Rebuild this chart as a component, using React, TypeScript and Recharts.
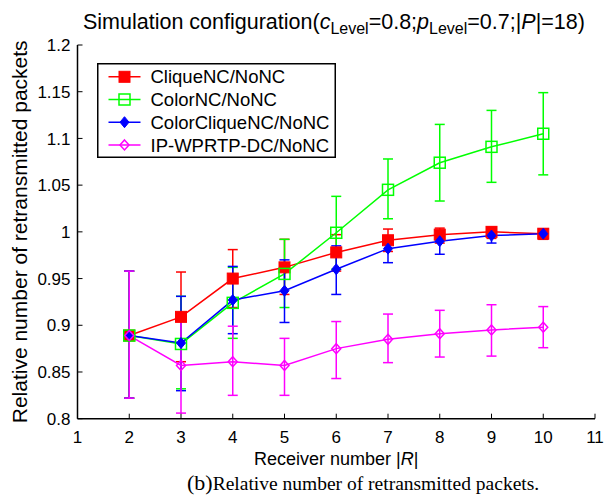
import React from 'react';
import { LineChart, Line, XAxis, YAxis, ErrorBar, Legend, Label } from 'recharts';

// ---------- data ----------
const receivers = [2, 3, 4, 5, 6, 7, 8, 9, 10];

const cliqueMean = [0.889, 0.909, 0.950, 0.962, 0.978, 0.991, 0.997, 1.000, 0.998];
const cliqueLow = [0.822, 0.861, 0.919, 0.933, 0.958, 0.979, 0.988, 0.993, 0.992];
const cliqueHigh = [0.958, 0.957, 0.981, 0.992, 0.997, 1.003, 1.004, 1.005, 1.003];

const colorMean = [0.889, 0.880, 0.924, 0.955, 0.999, 1.045, 1.074, 1.091, 1.105];
const colorLow = [0.822, 0.832, 0.886, 0.919, 0.960, 1.014, 1.033, 1.053, 1.061];
const colorHigh = [0.958, 0.931, 0.962, 0.992, 1.038, 1.078, 1.115, 1.130, 1.149];

const colorCliqueMean = [0.889, 0.881, 0.927, 0.937, 0.960, 0.982, 0.990, 0.996, 0.998];
const colorCliqueLow = [0.822, 0.830, 0.891, 0.903, 0.933, 0.967, 0.976, 0.988, 0.993];
const colorCliqueHigh = [0.958, 0.931, 0.963, 0.970, 0.985, 0.995, 1.001, 1.004, 1.003];

const ipMean = [0.889, 0.857, 0.861, 0.857, 0.875, 0.885, 0.891, 0.895, 0.898];
const ipLow = [0.822, 0.806, 0.825, 0.825, 0.843, 0.860, 0.866, 0.867, 0.876];
const ipHigh = [0.958, 0.908, 0.899, 0.886, 0.904, 0.912, 0.916, 0.922, 0.920];

const xTicks = [1, 2, 3, 4, 5, 6, 7, 8, 9, 10, 11];
const yTicks = [0.8, 0.85, 0.9, 0.95, 1, 1.05, 1.1, 1.15, 1.2];

const seriesNames = ['CliqueNC/NoNC', 'ColorNC/NoNC', 'ColorCliqueNC/NoNC', 'IP-WPRTP-DC/NoNC'];

// ---------- styling ----------
const FONT = '"Liberation Sans", Arial, Helvetica, sans-serif';

type MarkerType = 'squareFilled' | 'squareOpen' | 'diamondFilled' | 'diamondOpen';

const series = [
  { key: 'clique', name: seriesNames[0], color: '#ff0000', marker: 'squareFilled' as MarkerType, mean: cliqueMean, low: cliqueLow, high: cliqueHigh },
  { key: 'color', name: seriesNames[1], color: '#00ff00', marker: 'squareOpen' as MarkerType, mean: colorMean, low: colorLow, high: colorHigh },
  { key: 'colorClique', name: seriesNames[2], color: '#0000ff', marker: 'diamondFilled' as MarkerType, mean: colorCliqueMean, low: colorCliqueLow, high: colorCliqueHigh },
  { key: 'ip', name: seriesNames[3], color: '#ff00ff', marker: 'diamondOpen' as MarkerType, mean: ipMean, low: ipLow, high: ipHigh },
];

const data = receivers.map((r, i) => {
  const row: any = { r };
  series.forEach((s) => {
    row[s.key] = s.mean[i];
    row[s.key + 'Err'] = [s.mean[i] - s.low[i], s.high[i] - s.mean[i]];
  });
  return row;
});

function Marker({ type, color, cx, cy }: { type: MarkerType; color: string; cx: number; cy: number }) {
  if (cx == null || cy == null) return null;
  switch (type) {
    case 'squareFilled':
      return <rect x={cx - 5.5} y={cy - 5.5} width={11} height={11} fill={color} stroke={color} strokeWidth={1} />;
    case 'squareOpen':
      return <rect x={cx - 5.5} y={cy - 5.5} width={11} height={11} fill="none" stroke={color} strokeWidth={1.5} />;
    case 'diamondFilled':
      return (
        <polygon
          points={`${cx},${cy - 5.5} ${cx + 4.5},${cy} ${cx},${cy + 5.5} ${cx - 4.5},${cy}`}
          fill={color}
          stroke={color}
          strokeWidth={1}
        />
      );
    case 'diamondOpen':
    default:
      return (
        <polygon
          points={`${cx},${cy - 5} ${cx + 4.5},${cy} ${cx},${cy + 5} ${cx - 4.5},${cy}`}
          fill="none"
          stroke={color}
          strokeWidth={1.5}
        />
      );
  }
}

const BottomTick = (props: any) => {
  const { x, y, payload } = props;
  return (
    <g>
      <line x1={x} y1={y} x2={x} y2={y - 5} stroke="#000" strokeWidth={1} />
      <text x={x} y={y + 24} textAnchor="middle" fontSize={17} fontFamily={FONT} fill="#000">
        {payload.value}
      </text>
    </g>
  );
};

const TopTick = (props: any) => {
  const { x, y } = props;
  return <line x1={x} y1={y} x2={x} y2={y + 5} stroke="#000" strokeWidth={1} />;
};

const LeftTick = (props: any) => {
  const { x, y, payload } = props;
  return (
    <g>
      <line x1={x} y1={y} x2={x + 5} y2={y} stroke="#000" strokeWidth={1} />
      <text x={x - 7} y={y} dy="0.36em" textAnchor="end" fontSize={17} fontFamily={FONT} fill="#000">
        {String(payload.value)}
      </text>
    </g>
  );
};

const RightTick = (props: any) => {
  const { x, y } = props;
  return <line x1={x} y1={y} x2={x - 5} y2={y} stroke="#000" strokeWidth={1} />;
};

const LegendBox = () => (
  <svg width={239} height={95} style={{ display: 'block' }}>
    <rect x={0.75} y={0.75} width={237.5} height={93.5} fill="#fff" stroke="#000" strokeWidth={1.5} />
    {series.map((s, i) => {
      const cy = 13.8 + i * 22.7;
      return (
        <g key={s.key}>
          <line x1={11.5} y1={cy} x2={43.5} y2={cy} stroke={s.color} strokeWidth={1.5} />
          <Marker type={s.marker} color={s.color} cx={27.5} cy={cy} />
          <text x={53.5} y={cy} dy="0.36em" fontSize={18.5} fontFamily={FONT} fill="#000">
            {s.name}
          </text>
        </g>
      );
    })}
  </svg>
);

const XLabel = (props: any) => {
  const { viewBox } = props;
  const cx = viewBox.x + viewBox.width / 2;
  const y = viewBox.y + 46.5;
  return (
    <text x={cx} y={y} textAnchor="middle" fontSize={18} fontFamily={FONT} fill="#000">
      Receiver number |<tspan fontStyle="italic">R</tspan>|
    </text>
  );
};

const YLabel = (props: any) => {
  const { viewBox } = props;
  const cy = viewBox.y + viewBox.height / 2;
  const x = 27.5;
  return (
    <text
      x={x}
      y={cy}
      transform={`rotate(-90, ${x}, ${cy})`}
      textAnchor="middle"
      fontSize={21}
      fontFamily={FONT}
      fill="#000"
    >
      Relative number of retransmitted packets
    </text>
  );
};

export default function App() {
  return (
    <div style={{ position: 'absolute', left: 0, top: 0, width: 606, height: 498, background: '#fff' }}>
      <LineChart
        width={606}
        height={498}
        data={data}
        margin={{ top: 45, right: 11, bottom: 49.3, left: 0 }}
      >
        <XAxis
          dataKey="r"
          type="number"
          domain={[1, 11]}
          ticks={xTicks}
          interval={0}
          height={30}
          tickSize={0}
          tickMargin={0}
          tickLine={false}
          tick={<BottomTick />}
          axisLine={{ stroke: '#000', strokeWidth: 1.5 }}
        >
          <Label content={<XLabel />} />
        </XAxis>
        <XAxis
          xAxisId="top"
          orientation="top"
          dataKey="r"
          type="number"
          domain={[1, 11]}
          ticks={xTicks}
          interval={0}
          height={0}
          tickSize={0}
          tickMargin={0}
          tickLine={false}
          tick={<TopTick />}
          axisLine={{ stroke: '#000', strokeWidth: 1.5 }}
        />
        <YAxis
          type="number"
          domain={[0.8, 1.2]}
          ticks={yTicks}
          interval={0}
          width={77.5}
          tickSize={0}
          tickMargin={0}
          tickLine={false}
          tick={<LeftTick />}
          axisLine={{ stroke: '#000', strokeWidth: 1.5 }}
        >
          <Label content={<YLabel />} />
        </YAxis>
        <YAxis
          yAxisId="right"
          orientation="right"
          type="number"
          domain={[0.8, 1.2]}
          ticks={yTicks}
          interval={0}
          width={0}
          tickSize={0}
          tickMargin={0}
          tickLine={false}
          tick={<RightTick />}
          axisLine={{ stroke: '#000', strokeWidth: 1.5 }}
        />
        {series.map((s) => (
          <Line
            key={s.key}
            type="linear"
            dataKey={s.key}
            name={s.name}
            stroke={s.color}
            strokeWidth={1.5}
            isAnimationActive={false}
            dot={(p: any) => <Marker key={`${s.key}-${p.index}`} type={s.marker} color={s.color} cx={p.cx} cy={p.cy} />}
            activeDot={false}
          >
            <ErrorBar
              dataKey={s.key + 'Err'}
              direction="y"
              width={5}
              stroke={s.color}
              strokeWidth={1.5}
              isAnimationActive={false}
            />
          </Line>
        ))}
        <Legend
          layout="vertical"
          align="center"
          verticalAlign="middle"
          content={() => <LegendBox />}
          wrapperStyle={{ position: 'absolute', left: 96.5, top: 62.5, width: 239, height: 95 }}
        />
      </LineChart>
      <svg
        width={606}
        height={498}
        style={{ position: 'absolute', left: 0, top: 0, pointerEvents: 'none' }}
      >
        <text x={83} y={29} fontSize={21.5} fontFamily={FONT} fill="#000">
          Simulation configuration(
          <tspan fontStyle="italic">c</tspan>
          <tspan fontSize={16} dy={5}>Level</tspan>
          <tspan dy={-5}>=0.8;</tspan>
          <tspan fontStyle="italic">p</tspan>
          <tspan fontSize={16} dy={5}>Level</tspan>
          <tspan dy={-5}>=0.7;|</tspan>
          <tspan fontStyle="italic">P</tspan>
          <tspan>|=18)</tspan>
        </text>
        <text x={187} y={489.5} fontFamily='"Liberation Serif", "Times New Roman", serif' fill="#000">
          <tspan fontSize={22}>(b)</tspan>
          <tspan fontSize={19.5}>Relative number of retransmitted packets.</tspan>
        </text>
      </svg>
    </div>
  );
}
